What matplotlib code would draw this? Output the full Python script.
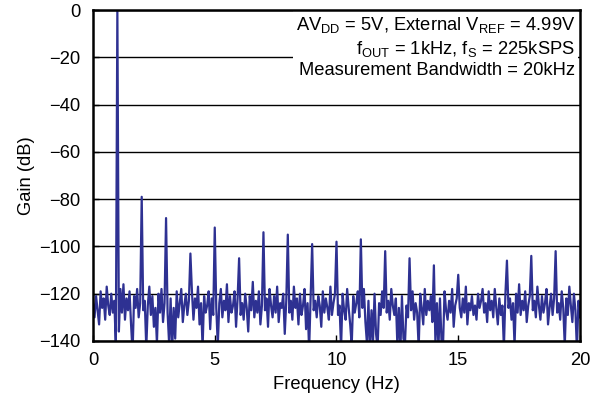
import numpy as np
import matplotlib.pyplot as plt

plt.rcParams['font.family'] = ['Liberation Sans', 'DejaVu Sans']
plt.rcParams['mathtext.fontset'] = 'custom'
plt.rcParams['mathtext.rm'] = 'Liberation Sans'
plt.rcParams['mathtext.it'] = 'Liberation Sans:italic'

# Noise floor, 16 samples per kHz (0 .. 20)
noise_db = [
    -124, -130, -121, -127, -133, -119, -126, -122, -131, -117, -125, -129, -120, -128, -123, -142,
    -120, -136, -118, -128, -116, -131, -122, -127, -119, -133, -145, -121, -126, -118, -130, -124,
    -119, -127, -123, -143, -125, -117, -129, -121, -134, -126, -141, -120, -128, -118, -132, -124,
    -121, -128, -141, -122, -144, -126, -139, -119, -130, -124, -118, -132, -125, -120, -129, -123,
    -127, -119, -131, -122, -126, -117, -133, -124, -143, -121, -128, -125, -119, -135, -122, -129,
    -120, -126, -142, -124, -118, -130, -123, -127, -116, -132, -121, -128, -125, -119, -134, -122,
    -118, -129, -124, -131, -120, -126, -136, -121, -127, -115, -130, -123, -128, -119, -133, -125,
    -120, -127, -122, -134, -118, -125, -130, -121, -128, -117, -132, -124, -126, -120, -137, -123,
    -119, -128, -123, -131, -117, -126, -122, -133, -120, -129, -125, -118, -135, -124, -144, -121,
    -118, -127, -123, -130, -121, -125, -134, -119, -128, -122, -126, -131, -117, -129, -124, -120,
    -122, -129, -125, -143, -120, -127, -131, -118, -126, -133, -142, -121, -128, -124, -119, -130,
    -121, -126, -118, -132, -141, -123, -145, -127, -140, -120, -137, -143, -124, -129, -119, -126,
    -120, -128, -123, -131, -118, -125, -129, -122, -142, -126, -144, -121, -139, -141, -125, -130,
    -122, -127, -119, -131, -124, -128, -143, -120, -126, -133, -118, -129, -123, -127, -121, -132,
    -120, -141, -124, -143, -122, -140, -142, -119, -127, -131, -123, -128, -118, -134, -125, -122,
    -119, -126, -130, -122, -128, -117, -133, -124, -127, -121, -129, -125, -131, -120, -126, -123,
    -121, -128, -124, -132, -119, -127, -123, -130, -118, -126, -133, -122, -129, -125, -143, -120,
    -118, -126, -122, -131, -124, -142, -120, -128, -116, -129, -123, -127, -119, -132, -125, -121,
    -119, -127, -123, -130, -117, -125, -131, -121, -128, -124, -118, -133, -126, -120, -129, -122,
    -121, -128, -124, -131, -119, -126, -142, -122, -129, -117, -125, -132, -120, -127, -144, -123,
    -130,
]

# Fundamental and harmonics (kHz, dB)
harmonic_freq = [1, 2, 3, 4, 5, 6, 7, 8, 9, 10, 11, 12, 13, 14, 15, 16, 17, 18, 19]
harmonic_db = [0, -79, -88, -103, -92, -105, -94, -95, -99, -98, -97, -102, -105, -108, -112,
               -118, -106, -104, -102]

freq = np.linspace(0, 20, len(noise_db))
gain = np.array(noise_db, dtype=float)
for f, g in zip(harmonic_freq, harmonic_db):
    gain[int(round(f * 16))] = g

fig = plt.figure(figsize=(5.97, 4.04), dpi=100)
ax = fig.add_axes([0.1558, 0.156, 0.8157, 0.819])

ax.plot(freq, gain, color='#2e3192', lw=1.6, zorder=2)

ax.set_xlim(0, 20)
ax.set_ylim(-140, 0)
ax.set_xticks([0, 5, 10, 15, 20])
ax.set_yticks(range(-140, 1, 20))
ax.yaxis.grid(True, color='black', lw=1.0)
ax.set_axisbelow(True)
ax.tick_params(direction='in', length=4, width=1, labelsize=13.2)
ax.tick_params(axis='x', pad=8)
ax.tick_params(axis='y', pad=9)
for s in ax.spines.values():
    s.set_linewidth(1.8)
    s.set_zorder(5)

ax.set_xlabel('Frequency (Hz)', fontsize=13.2, labelpad=5)
ax.set_ylabel('Gain (dB)', fontsize=13.2, labelpad=3)

note = ('AV$_{\\mathrm{DD}}$ = 5V, External V$_{\\mathrm{REF}}$ = 4.99V\n'
        'f$_{\\mathrm{OUT}}$ = 1kHz, f$_{\\mathrm{S}}$ = 225kSPS\n'
        'Measurement Bandwidth = 20kHz')
ax.text(0.99, 0.985, note, transform=ax.transAxes, ha='right', va='top',
        fontsize=13.2, linespacing=1.25, zorder=3,
        bbox=dict(facecolor='white', edgecolor='none', pad=2))

fig.savefig('out.png', dpi=100)
